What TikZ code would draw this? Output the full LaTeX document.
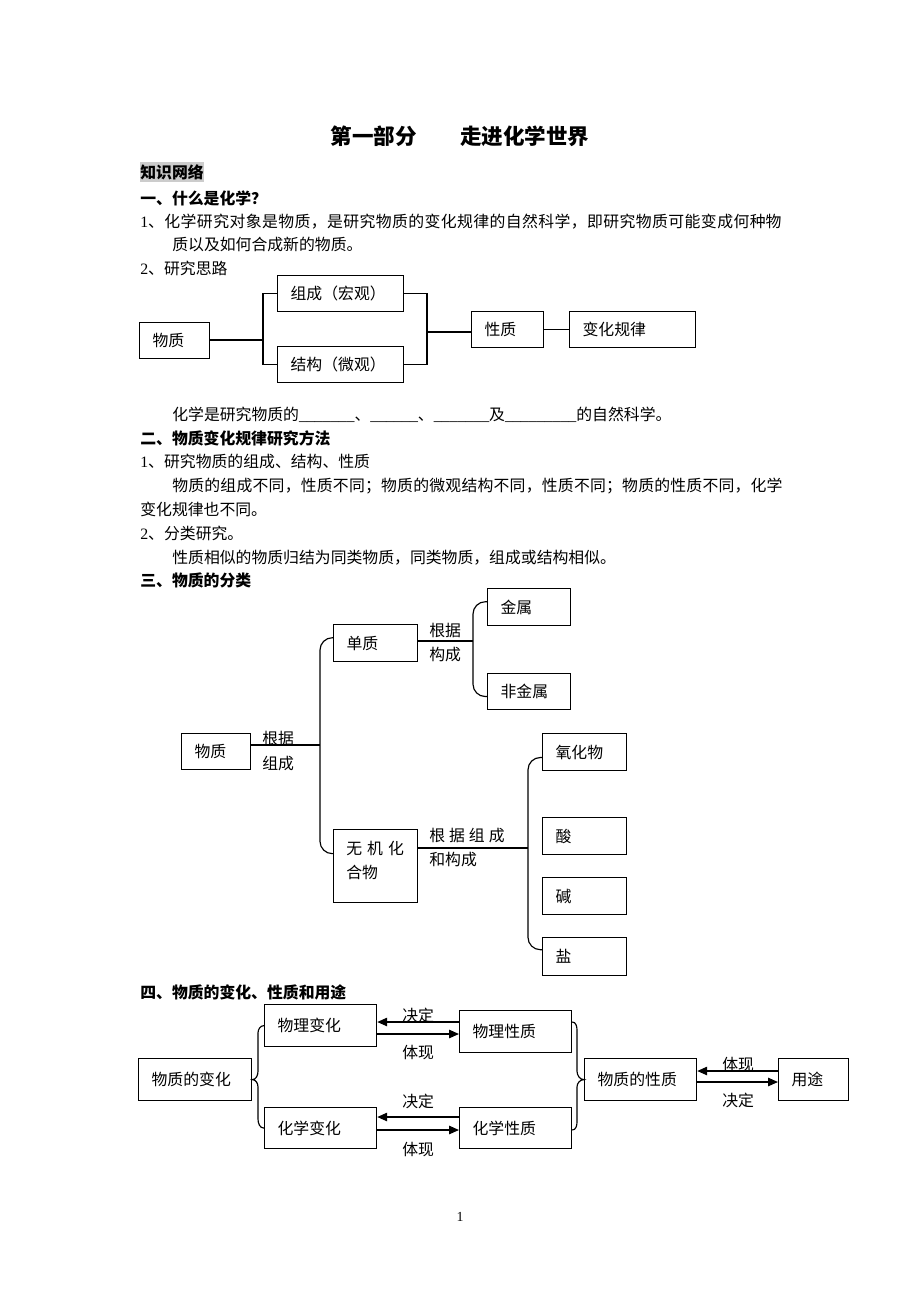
\documentclass[tikz,border=0pt]{standalone}
\usepackage{fontspec}
\setmainfont{Noto Sans CJK SC}
\newfontfamily\lat{Liberation Serif}
\usetikzlibrary{arrows.meta}
\begin{document}
\begin{tikzpicture}[x=0.65pt,y=-0.65pt,
  every node/.style={font=\fontsize{10.3pt}{12pt}\selectfont},
  txt/.style={anchor=west,inner sep=0pt,text height=9.1pt,text depth=1.2pt},
  hd/.style={txt,font=\fontsize{10.3pt}{12pt}\selectfont\bfseries},
  bx/.style={draw,line width=0.8pt,anchor=north west,inner xsep=8.45pt,inner ysep=0pt,text height=9.1pt,text depth=1.2pt,align=left},
  ln/.style={line width=0.75pt},
  arr/.style={line width=1pt,-{Triangle[length=6.5pt,width=5.5pt]}}]
\fill[white] (0,0) rectangle (920,1302);
\useasboundingbox (0,0) rectangle (920,1302);

% header texts
\node[font=\fontsize{14pt}{16pt}\selectfont\bfseries,inner sep=0pt] (title) at (460,136) {第一部分　　走进化学世界};
\node[hd,fill=black!20,inner ysep=1.3pt] (zswl) at (140,172) {知识网络};
\node[hd] (h1) at (140,198) {一、什么是化学？};
\node[txt] (p1) at (140,221) {{\lat 1}{\addfontfeature{LetterSpace=2.6}、化学研究对象是物质，是研究物质的变化规律的自然科学，即研究物质可能变成何种}物};
\node[txt] (p2) at (172,244) {质以及如何合成新的物质。};
\node[txt] (p3) at (140,268) {{\lat 2}、研究思路};

% diagram 1
\node[bx,text width=28.6pt,minimum height=23.4pt] (a0) at (139,322) {物质};
\node[bx,text width=65pt,minimum height=23.4pt] (a1) at (277,275) {组成（宏观）};
\node[bx,text width=65pt,minimum height=23.4pt] (a2) at (277,346) {结构（微观）};
\node[bx,text width=29.9pt,minimum height=23.4pt] (a3) at (471,311) {性质};
\node[bx,text width=65pt,minimum height=23.4pt] (a4) at (569,311) {变化规律};
\coordinate (c1) at (263,340);
\coordinate (c2) at (427,332);
\draw[ln] (c1 -| a0.east) -- (c1);
\draw[ln] (a1.west) -| (c1) |- (a2.west);
\draw[ln] (a1.east) -| (c2) |- (a2.east);
\draw[ln] (c2) -- (c2 -| a3.west);
\draw[ln] (a3.east) -- (a4.west);

\node[txt] (p4) at (172,414) {化学是研究物质的{\lat \_\_\_\_\_\_\_}、{\lat \_\_\_\_\_\_}、{\lat \_\_\_\_\_\_\_}及{\lat \_\_\_\_\_\_\_\_\_}的自然科学。};
\node[hd] (h2) at (140,438) {二、物质变化规律研究方法};
\node[txt] (p5) at (140,461) {{\lat 1}、研究物质的组成、结构、性质};
\node[txt] (p6) at (172,485) {{\addfontfeature{LetterSpace=1.4}物质的组成不同，性质不同；物质的微观结构不同，性质不同；物质的性质不同，化}学};
\node[txt] (p7) at (140,509) {变化规律也不同。};
\node[txt] (p8) at (140,533) {{\lat 2}、分类研究。};
\node[txt] (p9) at (172,557) {性质相似的物质归结为同类物质，同类物质，组成或结构相似。};
\node[hd] (h3) at (140,580) {三、物质的分类};

% diagram 2
\node[bx,text width=27.95pt,minimum height=23.4pt] (b0) at (181,733) {物质};
\node[bx,text width=37.7pt,minimum height=24.05pt] (b1) at (333,624) {单质};
\node[bx,text width=37.05pt,minimum height=24.05pt] (b2) at (487,588) {金属};
\node[bx,text width=37.05pt,minimum height=23.4pt] (b3) at (487,673) {非金属};
\node[bx,text width=37.7pt,minimum height=24.05pt] (b4) at (542,733) {氧化物};
\node[bx,minimum width=54.6pt,minimum height=47.45pt,inner sep=0pt] (b5) at (333,829) {};
\node[bx,text width=37.7pt,minimum height=24.05pt] (b6) at (542,817) {酸};
\node[bx,text width=37.7pt,minimum height=24.05pt] (b7) at (542,877) {碱};
\node[bx,text width=37.7pt,minimum height=24.7pt] (b8) at (542,937) {盐};
\node[txt] (t1) at (346,848) {无\hspace{3.3pt}机\hspace{3.3pt}化};
\node[txt] (t2) at (346,872) {合物};
\node[txt] (t3) at (262,738) {根据};
\node[txt] (t4) at (262,763) {组成};
\node[txt] (t5) at (429,630) {根据};
\node[txt] (t6) at (429,654) {构成};
\node[txt] (t7) at (429,835) {根\hspace{2.6pt}据\hspace{2.6pt}组\hspace{2.6pt}成};
\node[txt] (t8) at (429,859) {和构成};
\coordinate (d1) at (320,745);
\coordinate (d2) at (473,641);
\coordinate (d3) at (528,848);
\draw[ln] (d1 -| b0.east) -- (d1);
\draw[ln,rounded corners=8pt] ([yshift=3.5pt]b1.west) -| (d1) |- ([yshift=8.1pt]b5.west);
\draw[ln] (d2 -| b1.east) -- (d2);
\draw[ln,rounded corners=8pt] ([yshift=3.5pt]b2.west) -| (d2) |- ([yshift=-3.2pt]b3.west);
\draw[ln] (d3 -| b5.east) -- (d3);
\draw[ln,rounded corners=8pt] ([yshift=-3.5pt]b4.west) -| (d3) |- ([yshift=4.5pt]b8.west);

% diagram 3
\node[hd] (h4) at (140,992) {四、物质的变化、性质和用途};
\node[bx,text width=55.9pt,minimum height=27.3pt] (e1) at (264,1004) {物理变化};
\node[bx,text width=55.9pt,minimum height=27.3pt] (e2) at (459,1010) {物理性质};
\node[bx,text width=56.55pt,minimum height=27.3pt] (e0) at (138,1058) {物质的变化};
\node[bx,text width=55.9pt,minimum height=26.65pt] (e3) at (264,1107) {化学变化};
\node[bx,text width=55.9pt,minimum height=26.65pt] (e4) at (459,1107) {化学性质};
\node[bx,text width=55.9pt,minimum height=27.3pt] (e5) at (584,1058) {物质的性质};
\node[bx,text width=28.6pt,minimum height=27.3pt] (e6) at (778,1058) {用途};
\coordinate (f1) at (0,1022);
\coordinate (f2) at (0,1034);
\coordinate (f3) at (0,1117);
\coordinate (f4) at (0,1130);
\coordinate (f5) at (0,1071);
\coordinate (f6) at (0,1082);
\draw[arr] (f1 -| e2.west) -- (f1 -| e1.east);
\draw[arr] (f2 -| e1.east) -- (f2 -| e2.west);
\draw[arr] (f3 -| e4.west) -- (f3 -| e3.east);
\draw[arr] (f4 -| e3.east) -- (f4 -| e4.west);
\draw[arr] (f5 -| e6.west) -- (f5 -| e5.east);
\draw[arr] (f6 -| e5.east) -- (f6 -| e6.west);
\node[txt] (g1) at (402,1015) {决定};
\node[txt] (g2) at (402,1052) {体现};
\node[txt] (g3) at (402,1101) {决定};
\node[txt] (g4) at (402,1149) {体现};
\node[txt] (g5) at (722,1064) {体现};
\node[txt] (g6) at (722,1100) {决定};
\coordinate (k1) at (258,1033);
\coordinate (k2) at (258,1071);
\coordinate (k3) at (258,1087);
\coordinate (k4) at (258,1119);
\draw[ln] (e1.west) to[out=180,in=90] (k1) -- (k2) to[out=-90,in=0] (e0.east) to[out=0,in=90] (k3) -- (k4) to[out=-90,in=180] (e3.west);
\coordinate (m1) at (577,1030);
\coordinate (m2) at (577,1071);
\coordinate (m3) at (577,1087);
\coordinate (m4) at (577,1122);
\draw[ln] (f1 -| e2.east) to[out=0,in=90] (m1) -- (m2) to[out=-90,in=180] (e5.west) to[out=180,in=90] (m3) -- (m4) to[out=-90,in=0] (f4 -| e4.east);

\node[inner sep=0pt,font=\lat\fontsize{9pt}{10pt}\selectfont] (pg) at (460,1217) {1};
\end{tikzpicture}
\end{document}
